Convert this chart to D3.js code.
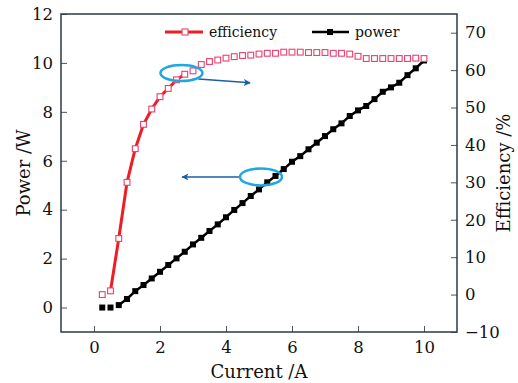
<!DOCTYPE html>
<html lang="en">
<head>
    <meta charset="UTF-8">
    <title>Power and efficiency vs current</title>
    <script src="https://d3js.org/d3.v7.min.js"></script>
    <style>
        body { margin: 0; background: #fff; }
        text { font-family: "DejaVu Serif", "Liberation Serif", serif; fill: #111; }
        .tick text { font-size: 16.5px; }
        .tick line { stroke: #555; stroke-width: 1; }
        .axis-title { font-size: 18px; }
        .legend-label { font-size: 14px; }
    </style>
</head>
<body>
    <div id="chart"></div>
    <script>
        // current (A), one point every 0.25 A
        var current = [0.25, 0.5, 0.75, 1, 1.25, 1.5, 1.75, 2, 2.25, 2.5,
                       2.75, 3, 3.25, 3.5, 3.75, 4, 4.25, 4.5, 4.75, 5,
                       5.25, 5.5, 5.75, 6, 6.25, 6.5, 6.75, 7, 7.25, 7.5,
                       7.75, 8, 8.25, 8.5, 8.75, 9, 9.25, 9.5, 9.75, 10];
        // output power (W)
        var power = [0, 0, 0.1, 0.35, 0.67, 0.92, 1.19, 1.46, 1.74, 2.01,
                     2.28, 2.58, 2.85, 3.13, 3.4, 3.69, 3.99, 4.27, 4.56, 4.83,
                     5.12, 5.38, 5.66, 5.96, 6.19, 6.47, 6.74, 7.01, 7.29, 7.53,
                     7.83, 8.06, 8.24, 8.52, 8.82, 9.0, 9.19, 9.5, 9.78, 10.1];
        // efficiency (%)
        var efficiency = [0, 1, 15, 30, 39, 45.5, 49.6, 52.9, 55.1, 57.4,
                          58.9, 59.8, 61.5, 62.3, 62.7, 63.2, 63.6, 63.9, 64.0, 64.3,
                          64.5, 64.5, 64.8, 64.8, 64.8, 64.7, 64.7, 64.7, 64.5, 64.5,
                          64.3, 63.7, 63.1, 63.1, 63.1, 63.1, 63.1, 63.1, 63.2, 63.1];

        var xTicks = [0, 2, 4, 6, 8, 10];
        var powerTicks = [0, 2, 4, 6, 8, 10, 12];
        var effTicks = [-10, 0, 10, 20, 30, 40, 50, 60, 70];

        // annotation marks in data units: [current, value]
        var effCircle = [2.65, 59.2];
        var effArrowEnd = [4.73, 56.6];
        var powCircle = [5.06, 5.34];
        var powArrowEnd = [2.67, 5.34];

        var w = 518;
        var h = 383;
        var pLeft = 61, pRight = 457, pTop = 14, pBottom = 332;

        var xScale = d3.scaleLinear().domain([-1, 11]).range([pLeft, pRight]);
        var yLeft = d3.scaleLinear().domain([-1, 12]).range([pBottom, pTop]);
        var yRight = d3.scaleLinear().domain([-10, 75]).range([pBottom, pTop]);

        var svg = d3.select("#chart")
                    .append("svg")
                    .attr("width", w)
                    .attr("height", h);

        svg.append("defs").append("marker")
           .attr("id", "arrow")
           .attr("viewBox", "0 0 10 10")
           .attr("refX", 9)
           .attr("refY", 5)
           .attr("markerWidth", 10)
           .attr("markerHeight", 7)
           .attr("markerUnits", "userSpaceOnUse")
           .attr("orient", "auto")
           .append("path")
           .attr("d", "M0,0 L10,5 L0,10 L2.5,5 Z")
           .attr("fill", "#1c5ca8");

        // axes, ticks point inward
        svg.append("g")
           .attr("transform", "translate(0," + pBottom + ")")
           .call(d3.axisBottom(xScale).tickValues(xTicks).tickSize(-6).tickSizeOuter(0).tickPadding(9))
           .call(function(g) { g.select(".domain").remove(); });

        svg.append("g")
           .attr("transform", "translate(" + pLeft + ",0)")
           .call(d3.axisLeft(yLeft).tickValues(powerTicks).tickSize(-6).tickSizeOuter(0).tickPadding(8))
           .call(function(g) { g.select(".domain").remove(); });

        svg.append("g")
           .attr("transform", "translate(" + pRight + ",0)")
           .call(d3.axisRight(yRight).tickValues(effTicks).tickSize(-6).tickSizeOuter(0).tickPadding(8))
           .call(function(g) { g.select(".domain").remove(); });

        svg.selectAll(".tick text").attr("fill", "#111");

        // frame
        svg.append("rect")
           .attr("x", pLeft)
           .attr("y", pTop)
           .attr("width", pRight - pLeft)
           .attr("height", pBottom - pTop)
           .attr("fill", "none")
           .attr("stroke", "#2c3a48")
           .attr("stroke-width", 1.5);

        // power: line from 0.75 A, filled black squares
        var powLine = d3.line()
                        .x(function(d, i) { return xScale(current[i + 2]); })
                        .y(function(d) { return yLeft(d); });

        svg.append("path")
           .datum(power.slice(2))
           .attr("d", powLine)
           .attr("fill", "none")
           .attr("stroke", "#000")
           .attr("stroke-width", 2.5);

        svg.selectAll(".pow")
           .data(power)
           .enter()
           .append("rect")
           .attr("class", "pow")
           .attr("x", function(d, i) { return xScale(current[i]) - 3; })
           .attr("y", function(d) { return yLeft(d) - 3; })
           .attr("width", 6)
           .attr("height", 6)
           .attr("fill", "#000");

        // efficiency: red line only on the rising part, open pink squares
        var effLine = d3.line()
                        .x(function(d, i) { return xScale(current[i + 1]); })
                        .y(function(d) { return yRight(d); });

        svg.append("path")
           .datum(efficiency.slice(1, 11))
           .attr("d", effLine)
           .attr("fill", "none")
           .attr("stroke", "#ee1c25")
           .attr("stroke-width", 3);

        svg.selectAll(".eff")
           .data(efficiency)
           .enter()
           .append("rect")
           .attr("class", "eff")
           .attr("x", function(d, i) { return xScale(current[i]) - 2.9; })
           .attr("y", function(d) { return yRight(d) - 2.9; })
           .attr("width", 5.8)
           .attr("height", 5.8)
           .attr("fill", "#fff")
           .attr("stroke", "#e8406e")
           .attr("stroke-width", 1.1);

        // annotations
        svg.append("line")
           .attr("x1", xScale(effCircle[0]) + 17)
           .attr("y1", yRight(effCircle[1]) + 6)
           .attr("x2", xScale(effArrowEnd[0]))
           .attr("y2", yRight(effArrowEnd[1]))
           .attr("stroke", "#1c5ca8")
           .attr("stroke-width", 1.5)
           .attr("marker-end", "url(#arrow)");

        svg.append("ellipse")
           .attr("cx", xScale(effCircle[0]))
           .attr("cy", yRight(effCircle[1]))
           .attr("rx", 21)
           .attr("ry", 8)
           .attr("fill", "none")
           .attr("stroke", "#1ea7e1")
           .attr("stroke-width", 2.5);

        svg.append("line")
           .attr("x1", xScale(powCircle[0]) - 21)
           .attr("y1", yLeft(powCircle[1]))
           .attr("x2", xScale(powArrowEnd[0]))
           .attr("y2", yLeft(powArrowEnd[1]))
           .attr("stroke", "#1c5ca8")
           .attr("stroke-width", 1.5)
           .attr("marker-end", "url(#arrow)");

        svg.append("ellipse")
           .attr("cx", xScale(powCircle[0]))
           .attr("cy", yLeft(powCircle[1]))
           .attr("rx", 21)
           .attr("ry", 8.5)
           .attr("fill", "none")
           .attr("stroke", "#1ea7e1")
           .attr("stroke-width", 2.5);

        // legend
        var legend = svg.append("g");
        legend.append("line")
              .attr("x1", 165).attr("y1", 32).attr("x2", 203).attr("y2", 32)
              .attr("stroke", "#ee1c25").attr("stroke-width", 3);
        legend.append("rect")
              .attr("x", 182).attr("y", 29).attr("width", 6).attr("height", 6)
              .attr("fill", "#fff").attr("stroke", "#e8406e").attr("stroke-width", 1.1);
        legend.append("text")
              .attr("class", "legend-label")
              .attr("x", 209).attr("y", 37)
              .text("efficiency");

        legend.append("line")
              .attr("x1", 312).attr("y1", 32).attr("x2", 349).attr("y2", 32)
              .attr("stroke", "#000").attr("stroke-width", 2.5);
        legend.append("rect")
              .attr("x", 327).attr("y", 29).attr("width", 6).attr("height", 6)
              .attr("fill", "#000");
        legend.append("text")
              .attr("class", "legend-label")
              .attr("x", 355).attr("y", 37)
              .text("power");

        // axis titles
        svg.append("text")
           .attr("class", "axis-title")
           .attr("x", (pLeft + pRight) / 2)
           .attr("y", 378)
           .attr("text-anchor", "middle")
           .text("Current /A");

        svg.append("text")
           .attr("class", "axis-title")
           .attr("transform", "translate(30," + (pTop + pBottom) / 2 + ") rotate(-90)")
           .attr("text-anchor", "middle")
           .text("Power /W");

        svg.append("text")
           .attr("class", "axis-title")
           .attr("transform", "translate(510," + (pTop + pBottom) / 2 + ") rotate(-90)")
           .attr("text-anchor", "middle")
           .text("Efficiency /%");
    </script>
</body>
</html>
